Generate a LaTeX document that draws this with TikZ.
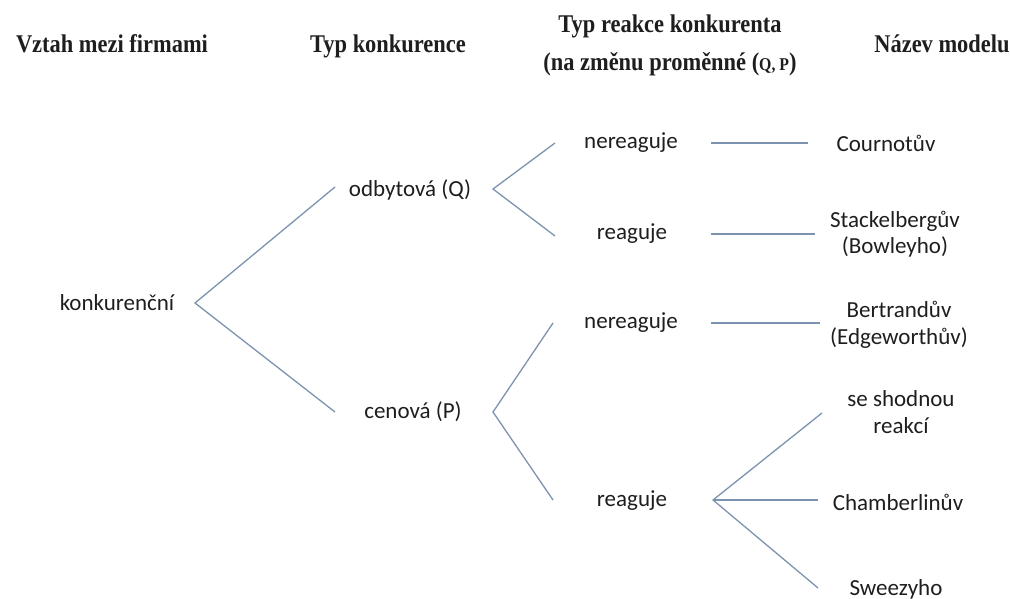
\documentclass[tikz,border=0pt]{standalone}
\usepackage{fontspec}
\setmainfont{Carlito}
\newfontfamily\hdrfont[FakeStretch=0.88]{Liberation Serif}
\definecolor{lnc}{RGB}{124,147,176}
\definecolor{txc}{RGB}{30,30,30}
\begin{document}
\begin{tikzpicture}[x=1pt,y=-1pt,
  hdr/.style={font=\hdrfont\fontsize{25.5}{25.5}\selectfont\bfseries, text=txc, inner sep=0pt, anchor=base},
  lbl/.style={font=\fontsize{23}{26.5}\selectfont, text=txc, inner sep=0pt, align=center},
  conn/.style={draw=lnc, line width=1.3pt}]
\useasboundingbox (0,0) rectangle (1010,599);
% headers
\node[hdr] (h1) at (112,53) {Vztah mezi firmami};
\node[hdr] (h2) at (388,53) {Typ konkurence};
\node[hdr] (h3a) at (670,33) {Typ reakce konkurenta};
\node[hdr] (h3b) at (670,71) {(na změnu proměnné ({\fontsize{18}{18}\selectfont Q, P})};
\node[hdr] (h4) at (942,53) {Název modelu};
% level 1
\node[lbl] (konk) at (117,303) {konkurenční};
% level 2
\node[lbl] (odb) at (410,190) {odbytová (Q)};
\node[lbl] (cen) at (413,412) {cenová (P)};
% level 3
\node[lbl] (n1) at (631,143) {nereaguje};
\node[lbl] (r1) at (632,234) {reaguje};
\node[lbl] (n2) at (631,323) {nereaguje};
\node[lbl] (r2) at (632,501) {reaguje};
% level 4
\node[lbl] (cour) at (886,143) {Cournotův};
\node[lbl] (stack) at (895,234) {Stackelbergův\\(Bowleyho)};
\node[lbl] (bert) at (899,325) {Bertrandův\\(Edgeworthův)};
\node[lbl] (shod) at (901,412) {se shodnou\\reakcí};
\node[lbl] (cham) at (898,502) {Chamberlinův};
\node[lbl] (swee) at (896,589) {Sweezyho};
% connector points
\coordinate (vK) at (195,303);
\coordinate (eO) at (335,187);
\coordinate (eC) at (335,412);
\coordinate (vO) at (493,189);
\coordinate (eN1) at (555,143);
\coordinate (eR1) at (555,236);
\coordinate (vC) at (493,412);
\coordinate (eN2) at (553,323);
\coordinate (eR2) at (553,500);
\coordinate (sN1) at (711,143);
\coordinate (fN1) at (808,143);
\coordinate (sR1) at (711,234);
\coordinate (fR1) at (815,234);
\coordinate (sN2) at (711,323);
\coordinate (fN2) at (820,323);
\coordinate (vR2) at (713,500);
\coordinate (fS) at (822,413);
\coordinate (fCh) at (818,500);
\coordinate (fSw) at (818,588);
% connectors
\draw[conn] (eO) -- (vK) -- (eC);
\draw[conn] (eN1) -- (vO) -- (eR1);
\draw[conn] (eN2) -- (vC) -- (eR2);
\draw[conn] (sN1) -- (fN1);
\draw[conn] (sR1) -- (fR1);
\draw[conn] (sN2) -- (fN2);
\draw[conn] (fS) -- (vR2) -- (fSw);
\draw[conn] (vR2) -- (fCh);
\end{tikzpicture}
\end{document}
